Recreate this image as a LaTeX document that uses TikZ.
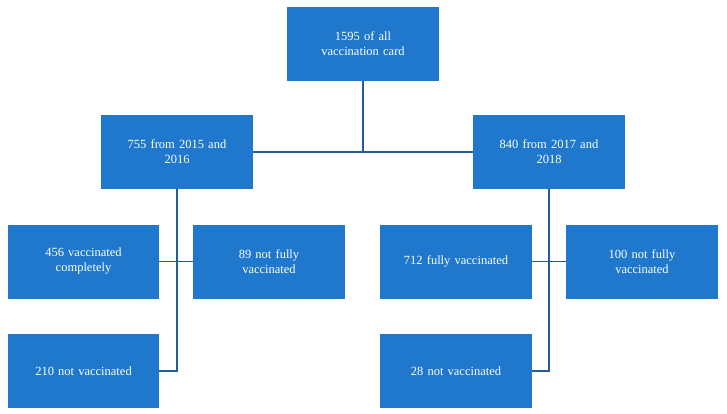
\documentclass[tikz,border=0pt]{standalone}
\usepackage{fontspec}
\setmainfont{Liberation Serif}
\definecolor{boxblue}{HTML}{1F78CC}
\definecolor{lineblue}{HTML}{1F5FA0}
\begin{document}
\begin{tikzpicture}[x=1pt,y=-1pt,
  bx/.style={fill=boxblue,draw=none,text=white,minimum width=152pt,minimum height=74pt,align=center,font=\fontsize{12.5}{15}\selectfont,inner sep=2pt,text width=145pt},
  ln/.style={draw=lineblue,line width=1.3pt}]
\useasboundingbox (0,0) rectangle (727,414);
\node[bx] (top) at (363,44) {1595 of all\\vaccination card};
\node[bx] (l) at (177,152) {755 from 2015 and\\2016};
\node[bx] (r) at (549,152) {840 from 2017 and\\2018};
\node[bx,minimum width=151pt] (l1) at (83.5,261.5) {456 vaccinated\\completely};
\node[bx] (l2) at (269,261.5) {89 not fully\\vaccinated};
\node[bx,minimum width=151pt] (l3) at (83.5,371) {210 not vaccinated};
\node[bx] (r1) at (456,261.5) {712 fully vaccinated};
\node[bx] (r2) at (642,261.5) {100 not fully\\vaccinated};
\node[bx] (r3) at (456,371) {28 not vaccinated};
\coordinate (tj) at (top.south |- l.east);
\coordinate (lj) at (l.south |- l1.east);
\coordinate (lk) at (l.south |- l3.east);
\coordinate (rj) at (r.south |- r1.east);
\coordinate (rk) at (r.south |- r3.east);
\draw[ln] (top.south) -- (tj);
\draw[ln] (l.east) -- (r.west);
\draw[ln] (l.south) -- (lk) -- (l3.east);
\draw[ln] (l1.east) -- (l2.west);
\draw[ln] (r.south) -- (rk) -- (r3.east);
\draw[ln] (r1.east) -- (r2.west);
\end{tikzpicture}
\end{document}
